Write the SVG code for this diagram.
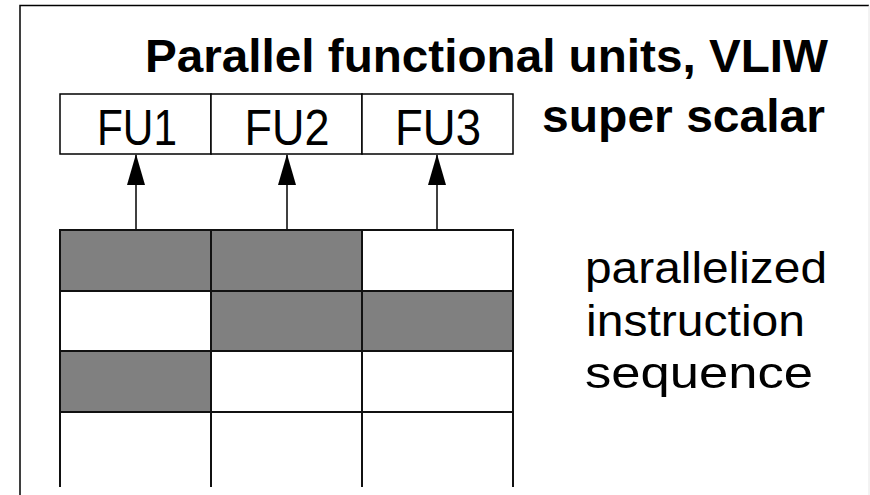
<svg xmlns="http://www.w3.org/2000/svg" width="870" height="495" viewBox="0 0 870 495">
<style>
.frame{fill:none;stroke:#000;stroke-width:1.5}
.cell{stroke:#111;stroke-width:2}
.on{fill:#808080}
.off{fill:#fff}
.fu{fill:#fff;stroke:#000;stroke-width:1.5}
.lbl{font-family:"Liberation Sans",Arial,sans-serif;fill:#000}
.conn{stroke:#000;stroke-width:1.5;fill:none}
</style>
<defs>
<marker id="ah" markerUnits="userSpaceOnUse" markerWidth="31" markerHeight="18" refX="30" refY="9" orient="auto" viewBox="0 0 31 18">
<path d="M0 0 L31 9 L0 18 Z" fill="#000"/>
</marker>
</defs>
<rect width="870" height="495" fill="#fff"/>
<path class="frame" d="M20 495 V5.5 H869"/>
<path d="M869 5.5 V495" stroke="#e6e6e6" stroke-width="1"/>
<g id="title">
<text class="lbl" x="145" y="72" font-size="47" font-weight="bold" textLength="683" lengthAdjust="spacingAndGlyphs">Parallel functional units, VLIW</text>
<text class="lbl" x="542" y="132" font-size="47" font-weight="bold" textLength="283" lengthAdjust="spacingAndGlyphs">super scalar</text>
</g>
<g id="fu1"><rect class="fu" x="60" y="94" width="151" height="60"/><text class="lbl" x="137" y="145" font-size="50" text-anchor="middle" textLength="80" lengthAdjust="spacingAndGlyphs">FU1</text></g>
<g id="fu2"><rect class="fu" x="211" y="94" width="151" height="60"/><text class="lbl" x="287" y="145" font-size="50" text-anchor="middle" textLength="85" lengthAdjust="spacingAndGlyphs">FU2</text></g>
<g id="fu3"><rect class="fu" x="362" y="94" width="151" height="60"/><text class="lbl" x="438" y="145" font-size="50" text-anchor="middle" textLength="86" lengthAdjust="spacingAndGlyphs">FU3</text></g>
<g id="connectors">
<path class="conn" d="M136 230 V155" marker-end="url(#ah)"/>
<path class="conn" d="M287 230 V155" marker-end="url(#ah)"/>
<path class="conn" d="M437 230 V155" marker-end="url(#ah)"/>
</g>
<g id="instruction-grid">
<rect class="cell on" x="60" y="230" width="151" height="61"/>
<rect class="cell on" x="211" y="230" width="151" height="61"/>
<rect class="cell off" x="362" y="230" width="151" height="61"/>
<rect class="cell off" x="60" y="291" width="151" height="60"/>
<rect class="cell on" x="211" y="291" width="151" height="60"/>
<rect class="cell on" x="362" y="291" width="151" height="60"/>
<rect class="cell on" x="60" y="351" width="151" height="61"/>
<rect class="cell off" x="211" y="351" width="151" height="61"/>
<rect class="cell off" x="362" y="351" width="151" height="61"/>
<path class="cell" fill="none" d="M60 412 V487 M211 412 V487 M362 412 V487 M513 412 V487"/>
</g>
<g id="sequence-label">
<text class="lbl" x="585" y="283" font-size="45" textLength="242" lengthAdjust="spacingAndGlyphs">parallelized</text>
<text class="lbl" x="586" y="336" font-size="45" textLength="219" lengthAdjust="spacingAndGlyphs">instruction</text>
<text class="lbl" x="585" y="388" font-size="45" textLength="228" lengthAdjust="spacingAndGlyphs">sequence</text>
</g>
</svg>
